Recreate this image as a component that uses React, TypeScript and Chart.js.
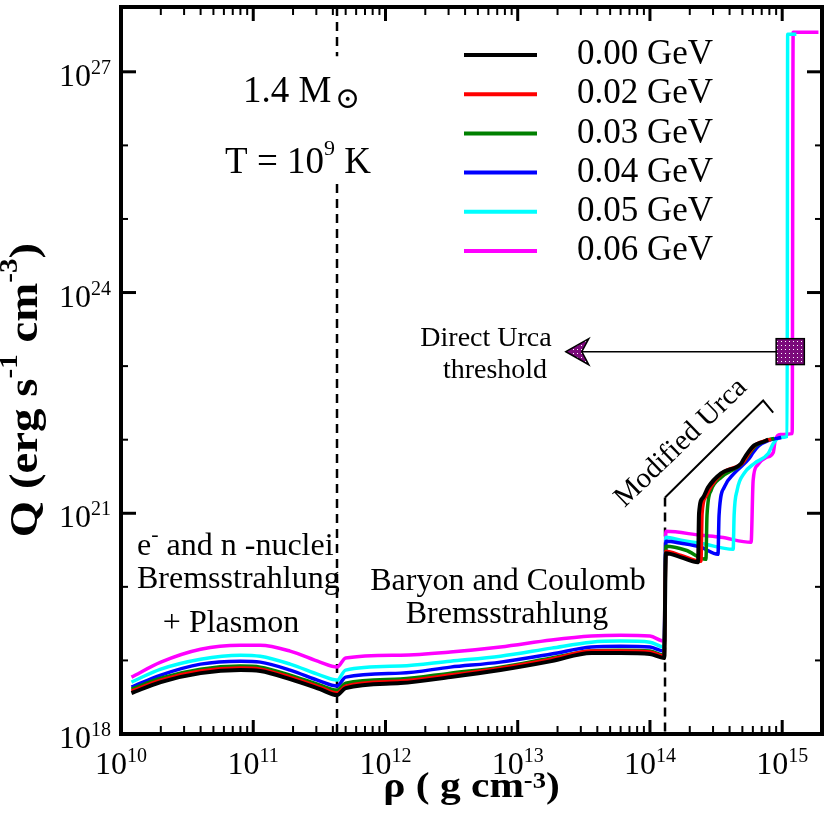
import React, { useEffect, useRef } from 'react';
import { Chart, registerables, ChartConfiguration, Plugin } from 'chart.js';

Chart.register(...registerables);

const SERIF = "'Liberation Serif', 'Times New Roman', 'DejaVu Serif', 'DejaVu Sans', serif";

// ---- data ----
const seriesLabels = ['0.00 GeV', '0.02 GeV', '0.03 GeV', '0.04 GeV', '0.05 GeV', '0.06 GeV'];
const seriesColors = ['#000000', '#ff0000', '#008000', '#0000ff', '#00ffff', '#ff00ff'];
const seriesWidths = [4, 3.5, 3.5, 3.5, 3.5, 3.5];

// densities shared by every curve up to the crust-core transition
const rhoCrust = [1.2e10, 2e10, 4e10, 8e10, 1.13e11, 1.9e11, 3.2e11, 4.3e11, 5e11, 1.3e12, 3.1e12, 7.4e12, 1.8e13, 3.6e13, 6e13, 1e14, 1.28e14];

const qCrust00 = [3.6e18, 5.08e18, 6.72e18, 7.39e18, 7.16e18, 5.58e18, 4.08e18, 3.38e18, 4.21e18, 4.92e18, 5.93e18, 7.39e18, 9.78e18, 1.26e19, 1.26e19, 1.22e19, 1.08e19];
const qCrust02 = [3.83e18, 5.4e18, 7.16e18, 7.86e18, 7.62e18, 5.93e18, 4.34e18, 3.6e18, 4.48e18, 5.24e18, 6.32e18, 7.86e18, 1.04e19, 1.34e19, 1.34e19, 1.3e19, 1.14e19];
const qCrust03 = [4.08e18, 5.75e18, 7.62e18, 8.37e18, 8.11e18, 6.32e18, 4.62e18, 3.95e18, 4.92e18, 5.58e18, 6.72e18, 8.11e18, 1.08e19, 1.34e19, 1.38e19, 1.34e19, 1.18e19];
const qCrust04 = [4.34e18, 6.32e18, 8.91e18, 9.78e18, 9.48e18, 7.39e18, 5.24e18, 4.48e18, 5.93e18, 6.72e18, 8.11e18, 9.48e18, 1.22e19, 1.52e19, 1.56e19, 1.52e19, 1.34e19];
const qCrust05 = [5.08e18, 7.62e18, 1.04e19, 1.18e19, 1.14e19, 8.91e18, 6.32e18, 5.4e18, 7.39e18, 8.37e18, 9.78e18, 1.14e19, 1.47e19, 1.77e19, 1.83e19, 1.77e19, 1.52e19];
const qCrust06 = [5.93e18, 9.48e18, 1.42e19, 1.61e19, 1.61e19, 1.34e19, 9.48e18, 8.11e18, 1.08e19, 1.18e19, 1.3e19, 1.52e19, 1.89e19, 2.14e19, 2.2e19, 2.14e19, 1.83e19];

// core part (modified / direct Urca), own density grid per curve
const rhoCore00 = [1.32e14, 1.72e14, 2.31e14, 2.35e14, 2.52e14, 2.75e14, 3.45e14, 4.89e14, 5.15e14, 5.52e14, 6.14e14, 7.31e14, 7.84e14];
const qCore00 = [2.86e20, 2.52e20, 2.16e20, 1.0e21, 1.64e21, 2.25e21, 3.48e21, 4.75e21, 5.56e21, 6.7e21, 8.35e21, 9.45e21, 1.0e22];
const rhoCore02 = [1.32e14, 1.72e14, 2.43e14, 2.48e14, 2.65e14, 2.9e14, 3.57e14, 5.07e14, 5.34e14, 5.73e14, 6.36e14, 7.57e14, 8.26e14];
const qCore02 = [3.04e20, 2.68e20, 2.23e20, 1.0e21, 1.7e21, 2.32e21, 3.59e21, 4.91e21, 5.73e21, 6.92e21, 8.61e21, 9.75e21, 1.01e22];
const rhoCore03 = [1.32e14, 1.87e14, 2.65e14, 2.7e14, 2.9e14, 3.45e14, 4.89e14, 5.34e14, 5.73e14, 6.36e14, 7.57e14, 8.7e14];
const qCore03 = [3.56e20, 3.14e20, 2.37e20, 9.37e20, 2.05e21, 3.07e21, 4.61e21, 5.56e21, 6.7e21, 8.35e21, 9.75e21, 1.04e22];
const rhoCore04 = [1.32e14, 1.72e14, 2.43e14, 3.27e14, 3.33e14, 3.64e14, 4.33e14, 5.63e14, 6.03e14, 6.7e14, 7.84e14, 9.83e14];
const qCore04 = [4.16e20, 3.91e20, 3.45e20, 2.77e20, 9.37e20, 2.25e21, 3.48e21, 5.56e21, 6.7e21, 8.35e21, 9.75e21, 1.07e22];
const rhoCore05 = [1.32e14, 1.72e14, 2.43e14, 4.26e14, 4.33e14, 4.56e14, 5.15e14, 6.14e14, 7.84e14, 8.56e14, 9.66e14, 1.09e15, 1.1e15, 1.28e15];
const qCore05 = [4.71e20, 4.29e20, 3.91e20, 3.24e20, 9.37e20, 2.05e21, 3.48e21, 4.75e21, 6.5e21, 8.88e21, 1.07e22, 1.11e22, 3.25e27, 3.25e27];
const rhoCore06 = [1.32e14, 2.43e14, 3.45e14, 5.82e14, 6.03e14, 6.47e14, 7.57e14, 8.56e14, 8.85e14, 9.66e14, 1.19e15, 1.21e15, 1.88e15];
const qCore06 = [5.68e20, 5.01e20, 4.71e20, 4.03e20, 2.8e21, 4.47e21, 5.73e21, 6.7e21, 9.75e21, 1.18e22, 1.21e22, 3.46e27, 3.46e27];

const crustQ = [qCrust00, qCrust02, qCrust03, qCrust04, qCrust05, qCrust06];
const coreRho = [rhoCore00, rhoCore02, rhoCore03, rhoCore04, rhoCore05, rhoCore06];
const coreQ = [qCore00, qCore02, qCore03, qCore04, qCore05, qCore06];

// axes
const xMin = 1e10;
const xMax = 2e15;
const yMin = 1e18;
const yMax = 7.6e27;
const xDecades = [1e10, 1e11, 1e12, 1e13, 1e14, 1e15];
const xMinorFactors = [2, 3, 4, 5, 6, 7, 8, 9];
const yDecades = [1e18, 1e19, 1e20, 1e21, 1e22, 1e23, 1e24, 1e25, 1e26, 1e27];
const yLabelled = [1e18, 1e21, 1e24, 1e27];

// guide lines and markers
const dripRho = 4.3e11;
const dripUpperQ = [yMax, 1.63e27];
const dripLowerQ = [2.99e25, yMin];
const coreEdgeRho = 1.3e14;
const coreEdgeQ = [1.64e21, yMin];
const bracketRho = [1.3e14, 7.18e14, 8.55e14];
const bracketQ = [1.64e21, 3.4e22, 2.34e22];
const arrowRho = [2.6e13, 9.0e14];
const arrowQ = 1.57e23;
const arrowTipRho = 2.31e13;
const boxRho = [9.0e14, 1.47e15];
const boxQ = [1.05e23, 2.36e23];

const exponent = (v: number) => String(Math.round(Math.log10(v)));
const toPoints = (xs: number[], ys: number[]) => xs.map((x, i) => ({ x, y: ys[i] }));

type Run = { t: string; size: number; dy?: number; bold?: boolean };

function drawRuns(ctx: CanvasRenderingContext2D, runs: Run[], x: number, y: number, align: 'left' | 'center' | 'right') {
  const font = (r: Run) => `${r.bold ? 'bold ' : ''}${r.size}px ${SERIF}`;
  let w = 0;
  for (const r of runs) {
    ctx.font = font(r);
    w += ctx.measureText(r.t).width;
  }
  let cx = align === 'center' ? x - w / 2 : align === 'right' ? x - w : x;
  ctx.textAlign = 'left';
  ctx.textBaseline = 'alphabetic';
  for (const r of runs) {
    ctx.font = font(r);
    ctx.fillText(r.t, cx, y + (r.dy || 0));
    cx += ctx.measureText(r.t).width;
  }
}

function dotPattern(ctx: CanvasRenderingContext2D) {
  const c = document.createElement('canvas');
  c.width = 4;
  c.height = 4;
  const p = c.getContext('2d')!;
  p.fillStyle = '#7b0a7b';
  p.fillRect(0, 0, 4, 4);
  p.fillStyle = '#ffffff';
  p.fillRect(1, 1, 1, 1);
  return ctx.createPattern(c, 'repeat') || '#7b0a7b';
}

const overlayPlugin: Plugin<'line'> = {
  id: 'overlay',
  afterDraw(chart) {
    const { ctx, chartArea: a } = chart;
    const sx = chart.scales.x;
    const sy = chart.scales.y;
    ctx.save();
    ctx.strokeStyle = '#000';
    ctx.fillStyle = '#000';
    ctx.setLineDash([]);

    const seg = (x0: number, y0: number, x1: number, y1: number, w: number) => {
      ctx.lineWidth = w;
      ctx.beginPath();
      ctx.moveTo(x0, y0);
      ctx.lineTo(x1, y1);
      ctx.stroke();
    };

    // inward ticks on all four sides
    for (const d of xDecades) {
      for (const k of [1, ...xMinorFactors]) {
        const v = d * k;
        if (v >= xMax * 0.999) continue;
        const px = sx.getPixelForValue(v);
        const len = k === 1 ? 14 : 8;
        const w = k === 1 ? 3 : 2;
        seg(px, a.bottom, px, a.bottom - len, w);
        seg(px, a.top, px, a.top + len, w);
      }
    }
    for (const d of yDecades) {
      const major = yLabelled.includes(d);
      const py = sy.getPixelForValue(d);
      const len = major ? 15 : 7;
      const w = major ? 3 : 2;
      seg(a.left, py, a.left + len, py, w);
      seg(a.right, py, a.right - len, py, w);
    }

    // frame
    ctx.lineWidth = 4;
    ctx.strokeRect(a.left, a.top, a.right - a.left, a.bottom - a.top);

    // tick labels, 10 with a raised exponent
    ctx.fillStyle = '#000';
    for (const d of xDecades) {
      drawRuns(ctx, [{ t: '10', size: 32 }, { t: exponent(d), size: 20, dy: -12 }], sx.getPixelForValue(d), a.bottom + 40, 'center');
    }
    for (const d of yLabelled) {
      drawRuns(ctx, [{ t: '10', size: 32 }, { t: exponent(d), size: 20, dy: -12 }], a.left - 10, sy.getPixelForValue(d) + 14, 'right');
    }

    // axis titles (the source lettering is a little stretched along the line)
    ctx.save();
    ctx.translate((a.left + a.right) / 2, 797);
    ctx.scale(1.15, 1);
    drawRuns(
      ctx,
      [{ t: 'ρ ( g cm', size: 36, bold: true }, { t: '-3', size: 23, dy: -9, bold: true }, { t: ')', size: 36, bold: true }],
      0,
      0,
      'center',
    );
    ctx.restore();
    ctx.save();
    ctx.translate(37, 390);
    ctx.rotate(-Math.PI / 2);
    ctx.scale(1.17, 1);
    drawRuns(
      ctx,
      [
        { t: 'Q (erg s', size: 40, bold: true },
        { t: '-1', size: 25, dy: -20, bold: true },
        { t: ' cm', size: 40, bold: true },
        { t: '-3', size: 25, dy: -20, bold: true },
        { t: ')', size: 40, bold: true },
      ],
      0,
      0,
      'center',
    );
    ctx.restore();

    // Direct Urca marker box and arrow head
    const pat = dotPattern(ctx);
    const bx0 = sx.getPixelForValue(boxRho[0]);
    const bx1 = sx.getPixelForValue(boxRho[1]);
    const by0 = sy.getPixelForValue(boxQ[1]);
    const by1 = sy.getPixelForValue(boxQ[0]);
    ctx.fillStyle = pat;
    ctx.fillRect(bx0, by0, bx1 - bx0, by1 - by0);
    ctx.lineWidth = 1.5;
    ctx.strokeRect(bx0, by0, bx1 - bx0, by1 - by0);

    const tipX = sx.getPixelForValue(arrowTipRho);
    const ay = sy.getPixelForValue(arrowQ);
    ctx.beginPath();
    ctx.moveTo(tipX, ay);
    ctx.lineTo(tipX + 23, ay - 13);
    ctx.lineTo(tipX + 16, ay);
    ctx.lineTo(tipX + 23, ay + 13);
    ctx.closePath();
    ctx.fill();
    ctx.stroke();

    // legend
    ctx.fillStyle = '#000';
    seriesLabels.forEach((label, i) => {
      const ly = 55 + i * 39.2;
      ctx.strokeStyle = seriesColors[i];
      seg(464, ly, 537, ly, 4);
      ctx.font = `35px ${SERIF}`;
      ctx.textAlign = 'left';
      ctx.textBaseline = 'middle';
      ctx.fillText(label, 577, ly);
    });

    // annotations
    drawRuns(ctx, [{ t: '1.4 M', size: 37 }], 243, 102, 'left');
    ctx.font = `30px ${SERIF}`;
    ctx.fillText('⊙', 335, 108);
    drawRuns(ctx, [{ t: 'T = 10', size: 37 }, { t: '9', size: 22, dy: -18 }, { t: ' K', size: 37 }], 298, 173, 'center');

    drawRuns(ctx, [{ t: 'e', size: 32 }, { t: '-', size: 22, dy: -14 }, { t: ' and n -nuclei', size: 32 }], 137, 555, 'left');
    drawRuns(ctx, [{ t: 'Bremsstrahlung', size: 32 }], 137, 588, 'left');
    drawRuns(ctx, [{ t: '+ Plasmon', size: 32 }], 231, 632, 'center');

    drawRuns(ctx, [{ t: 'Baryon and Coulomb', size: 32 }], 508, 590, 'center');
    drawRuns(ctx, [{ t: 'Bremsstrahlung', size: 32 }], 507, 623, 'center');

    drawRuns(ctx, [{ t: 'Direct Urca', size: 28 }], 486, 346, 'center');
    drawRuns(ctx, [{ t: 'threshold', size: 28 }], 495, 378, 'center');

    ctx.save();
    ctx.translate(681, 443);
    ctx.rotate((-44 * Math.PI) / 180);
    ctx.font = `29px ${SERIF}`;
    ctx.textAlign = 'center';
    ctx.textBaseline = 'middle';
    ctx.fillText('Modified Urca', 0, 0);
    ctx.restore();

    ctx.restore();
  },
};

const curveDatasets = seriesLabels.map((label, i) => ({
  label,
  data: [...toPoints(rhoCrust, crustQ[i]), ...toPoints(coreRho[i], coreQ[i])],
  borderColor: seriesColors[i],
  borderWidth: seriesWidths[i],
  pointRadius: 0,
  cubicInterpolationMode: 'monotone' as const,
  fill: false,
  order: i,
}));

const guide = (data: { x: number; y: number }[], dashed: boolean, width: number) => ({
  label: '',
  data,
  borderColor: '#000',
  borderWidth: width,
  borderDash: dashed ? [9, 6] : [],
  pointRadius: 0,
  tension: 0,
  fill: false,
  order: 10,
});

const config: ChartConfiguration<'line'> = {
  type: 'line',
  data: {
    datasets: [
      ...curveDatasets,
      guide([{ x: dripRho, y: dripUpperQ[0] }, { x: dripRho, y: dripUpperQ[1] }], true, 2.5),
      guide([{ x: dripRho, y: dripLowerQ[0] }, { x: dripRho, y: dripLowerQ[1] }], true, 2.5),
      guide([{ x: coreEdgeRho, y: coreEdgeQ[0] }, { x: coreEdgeRho, y: coreEdgeQ[1] }], true, 2.5),
      guide(toPoints(bracketRho, bracketQ), false, 2),
      guide([{ x: arrowRho[0], y: arrowQ }, { x: arrowRho[1], y: arrowQ }], false, 1.5),
    ],
  },
  options: {
    responsive: true,
    maintainAspectRatio: false,
    animation: false,
    layout: { padding: { left: 0, top: 7, right: 8, bottom: 0 } },
    plugins: {
      legend: { display: false },
      tooltip: { enabled: false },
    },
    scales: {
      x: {
        type: 'logarithmic',
        min: xMin,
        max: xMax,
        grid: { display: false, drawTicks: false },
        border: { display: false },
        ticks: { display: false },
        afterFit: (scale) => {
          scale.height = 96;
          scale.paddingLeft = 0;
          scale.paddingRight = 0;
        },
      },
      y: {
        type: 'logarithmic',
        min: yMin,
        max: yMax,
        grid: { display: false, drawTicks: false },
        border: { display: false },
        ticks: { display: false },
        afterFit: (scale) => {
          scale.width = 121;
          scale.paddingTop = 0;
          scale.paddingBottom = 0;
        },
      },
    },
  },
  plugins: [overlayPlugin],
};

export default function App() {
  const canvasRef = useRef<HTMLCanvasElement>(null);

  useEffect(() => {
    if (!canvasRef.current) return;
    const chart = new Chart(canvasRef.current, config);
    return () => {
      chart.destroy();
    };
  }, []);

  return (
    <div style={{ position: 'absolute', left: 0, top: 0, width: 830, height: 830, background: '#ffffff' }}>
      <canvas ref={canvasRef} />
    </div>
  );
}
